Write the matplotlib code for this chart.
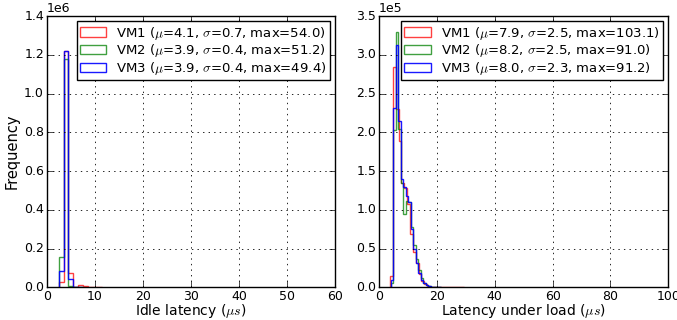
import numpy as np
import matplotlib
matplotlib.use("Agg")
import matplotlib.pyplot as plt

plt.style.use("classic")

# Idle latency histograms (counts in 1e6), bins of 1 us starting at 2.5 us
idle_start = 2.5
idle_width = 1.0
idle_vm1 = [0.027, 1.22, 0.073, 0.003, 0.010, 0.006, 0.002, 0.001, 0.0005]
idle_vm2 = [0.155, 1.18, 0.005, 0.0005, 0.0003]
idle_vm3 = [0.082, 1.22, 0.044, 0.001, 0.0003]
idle_labels = [r"VM1 ($\mu$=4.1, $\sigma$=0.7, max=54.0)",
               r"VM2 ($\mu$=3.9, $\sigma$=0.4, max=51.2)",
               r"VM3 ($\mu$=3.9, $\sigma$=0.4, max=49.4)"]

# Latency under load histograms (counts in 1e5)
load_start = [3.75, 3.96, 3.96]
load_width = [0.99, 0.87, 0.87]
load_vm1 = [0.15, 2.84, 2.30, 1.89, 1.35, 1.28, 1.08, 0.69, 0.45, 0.32,
            0.17, 0.08, 0.04, 0.02, 0.01, 0.006, 0.004, 0.003, 0.002, 0.002,
            0.001, 0.001, 0.001, 0.001, 0.001, 0.001]
load_vm2 = [0.05, 2.03, 3.30, 2.04, 1.35, 0.95, 1.12, 1.10, 0.78, 0.55,
            0.36, 0.22, 0.12, 0.06, 0.03, 0.015, 0.008, 0.004, 0.002, 0.001]
load_vm3 = [0.10, 2.31, 3.12, 2.15, 1.40, 1.30, 1.18, 1.10, 0.75, 0.50,
            0.32, 0.18, 0.10, 0.05, 0.03, 0.015, 0.008, 0.004, 0.002, 0.001]
load_labels = [r"VM1 ($\mu$=7.9, $\sigma$=2.5, max=103.1)",
               r"VM2 ($\mu$=8.2, $\sigma$=2.5, max=91.0)",
               r"VM3 ($\mu$=8.0, $\sigma$=2.3, max=91.2)"]

colors = ["r", "g", "b"]
alphas = [0.75, 0.75, 0.9]


def draw_hist(ax, counts, start, width, scale, color, alpha, label):
    edges = start + width * np.arange(len(counts) + 1)
    centers = (edges[:-1] + edges[1:]) / 2
    ax.hist(centers, bins=edges, weights=np.array(counts) * scale,
            histtype="step", color=color, alpha=alpha, lw=1.0, label=label)


fig = plt.figure(figsize=(6.77, 3.2), dpi=100)
fig.patch.set_facecolor("white")
ax1 = fig.add_axes([0.069, 0.102, 0.426, 0.848])
ax2 = fig.add_axes([0.560, 0.102, 0.427, 0.848])

for counts, c, a, lab in zip([idle_vm1, idle_vm2, idle_vm3], colors, alphas,
                             idle_labels):
    draw_hist(ax1, counts, idle_start, idle_width, 1e6, c, a, lab)

for counts, s, w, c, a, lab in zip([load_vm1, load_vm2, load_vm3], load_start,
                                   load_width, colors, alphas, load_labels):
    draw_hist(ax2, counts, s, w, 1e5, c, a, lab)

ax1.set_xlim(0, 60)
ax1.set_ylim(0, 1.4e6)
ax1.set_xticks(np.arange(0, 61, 10))
ax1.set_yticks(np.arange(0, 1.41e6, 0.2e6))
ax1.set_xlabel(r"Idle latency ($\mu s$)", fontsize=10, labelpad=-1)
ax1.set_ylabel("Frequency", fontsize=10.5, labelpad=3)

ax2.set_xlim(0, 100)
ax2.set_ylim(0, 3.5e5)
ax2.set_xticks(np.arange(0, 101, 20))
ax2.set_yticks(np.arange(0, 3.51e5, 0.5e5))
ax2.set_xlabel(r"Latency under load ($\mu s$)", fontsize=10, labelpad=-1)

for ax in (ax1, ax2):
    ax.ticklabel_format(axis="y", style="sci", scilimits=(0, 0))
    ax.yaxis.get_offset_text().set_fontsize(9)
    ax.tick_params(labelsize=9, pad=2)
    ax.grid(True, color="k", linestyle=":", lw=0.6)
    leg = ax.legend(loc="upper right", fontsize=9.5, handlelength=2.0,
                    borderaxespad=0.4, labelspacing=0.05, handletextpad=0.75,
                    borderpad=0.25)
    leg.get_frame().set_linewidth(1.0)

fig.savefig("out.png", dpi=100, facecolor="white")
